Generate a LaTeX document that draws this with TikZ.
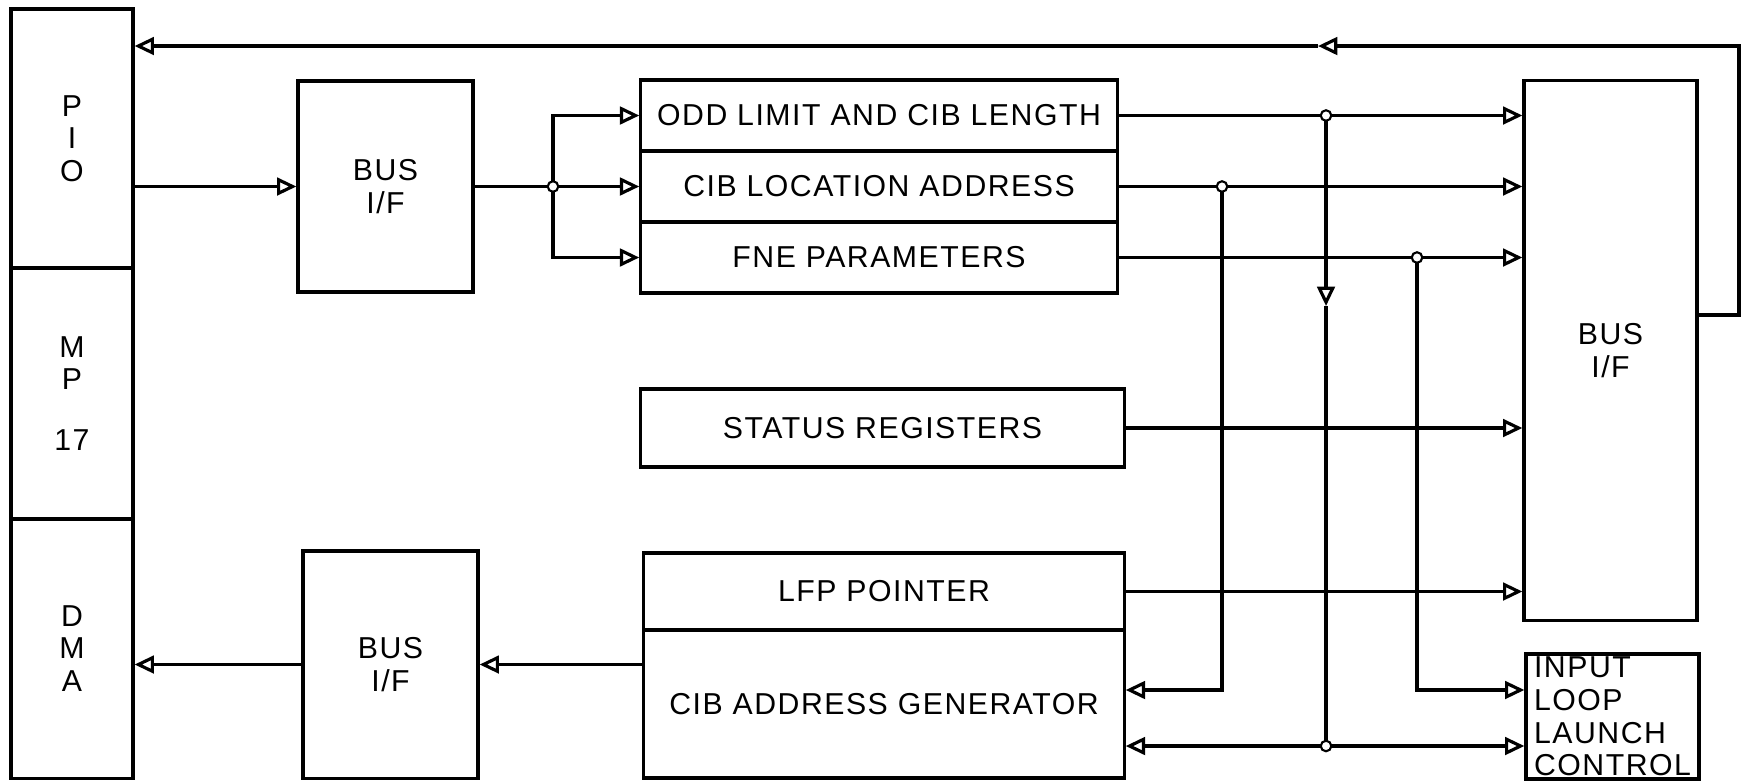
\documentclass[tikz,border=0pt]{standalone}
\usepackage{fontspec}
\setmainfont{Liberation Sans}[LetterSpace=5]
\usetikzlibrary{arrows.meta}

\begin{document}
\begin{tikzpicture}[x=0.01cm, y=-0.01cm, line width=0.9pt,
    every node/.style={font=\fontsize{8.6}{9.3}\selectfont},
    blk/.style={draw, rectangle, inner sep=0pt, align=center},
    conn/.style={-{Triangle[open, length=5.5pt, width=5pt]}},
    junc/.style={draw, circle, fill=white, inner sep=0pt, minimum size=3pt, line width=0.6pt}]

  \useasboundingbox (0,0) rectangle (1743,781);

  % Draw the processor column
  \node[blk, minimum width=1.22cm, minimum height=2.59cm] (pio) at (72,138.5) {P\\I\\O};
  \node[blk, minimum width=1.22cm, minimum height=2.51cm] (mp) at (72,393.5) {M\\P\\[0.28cm]17};
  \node[blk, minimum width=1.22cm, minimum height=2.59cm] (dma) at (72,648.5) {D\\M\\A};

  % Draw the bus interfaces
  \node[blk, minimum width=1.75cm, minimum height=2.11cm] (bustop) at (385.5,186.5) {BUS\\I/F};
  \node[blk, minimum width=1.75cm, minimum height=2.27cm] (busbot) at (390.5,664.5) {BUS\\I/F};
  \node[blk, minimum width=1.73cm, minimum height=5.39cm] (busright) at (1610.5,350.5) {BUS\\I/F};

  % Draw the register stack
  \node[blk, minimum width=4.76cm, minimum height=0.71cm] (odd) at (879,115.5) {ODD LIMIT AND CIB LENGTH};
  \node[blk, minimum width=4.76cm, minimum height=0.71cm] (loc) at (879,186.5) {CIB LOCATION ADDRESS};
  \node[blk, minimum width=4.76cm, minimum height=0.71cm] (fne) at (879,257.5) {FNE PARAMETERS};
  \node[blk, minimum width=4.83cm, minimum height=0.78cm] (status) at (882.5,428) {STATUS REGISTERS};

  % Draw the address generator
  \node[blk, minimum width=4.80cm, minimum height=0.77cm] (lfp) at (884,591.5) {LFP POINTER};
  \node[blk, minimum width=4.80cm, minimum height=1.48cm] (gen) at (884,704) {CIB ADDRESS GENERATOR};
  \node[blk, align=left, minimum width=1.73cm, minimum height=1.25cm] (ilc) at (1612.5,716.5) {INPUT\\LOOP\\LAUNCH\\CONTROL};

  % Junctions and bends
  \coordinate (jin) at (553,186.5);
  \coordinate (jodd) at (1326,115.5);
  \coordinate (jloc) at (1222,186.5);
  \coordinate (jfne) at (1417,257.5);
  \coordinate (jdown) at (1326,306);
  \coordinate (jbot) at (1326,746);
  \coordinate (fbturn) at (1739,315);
  \coordinate (fbtop) at (1739,46);
  \coordinate (fbmid) at (1318,46);

  % Draw the wires into the registers
  \draw[conn] (pio.east |- bustop.west) -- (bustop.west);
  \draw (bustop.east) -- (jin);
  \draw[conn] (jin) -- (loc.west);
  \draw[conn] (jin) |- (odd.west);
  \draw[conn] (jin) |- (fne.west);

  % Draw the wires into the right bus interface
  \draw[conn] (odd.east) -- (odd.east -| busright.west);
  \draw[conn] (loc.east) -- (loc.east -| busright.west);
  \draw[conn] (fne.east) -- (fne.east -| busright.west);
  \draw[conn] (status.east) -- (status.east -| busright.west);
  \draw[conn] (lfp.east) -- (lfp.east -| busright.west);

  % Draw the taps down to the generator and the launch control
  \draw[conn] (jodd) -- (jdown);
  \draw (jdown) -- (jbot);
  \draw[conn] (jbot) -- (jbot -| gen.east);
  \draw[conn] (jbot) -- (jbot -| ilc.west);
  \draw[conn] (jloc) |- ([yshift=0.14cm]gen.east);
  \draw[conn] (jfne) |- ([yshift=0.265cm]ilc.west);

  % Draw the wires out to the DMA
  \draw[conn] (gen.west |- busbot.east) -- (busbot.east);
  \draw[conn] (busbot.west) -- (busbot.west -| dma.east);

  % Draw the feedback to the PIO
  \draw[conn] (busright.east |- fbturn) -- (fbturn) -- (fbtop) -- (fbmid);
  \draw[conn] (fbmid) -- (fbmid -| pio.east);

  \foreach \j in {jin, jodd, jloc, jfne, jbot}
    \node[junc] (dot\j) at (\j) {};

\end{tikzpicture}
\end{document}
